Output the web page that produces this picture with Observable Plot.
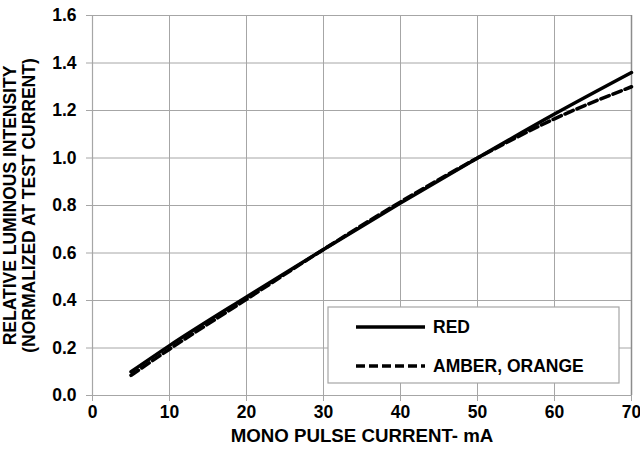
<!DOCTYPE html>
<html>
<head>
<meta charset="utf-8">
<script src="https://cdn.jsdelivr.net/npm/d3@7"></script>
<script src="https://cdn.jsdelivr.net/npm/@observablehq/plot@0.6"></script>
<style>
  html, body { margin: 0; padding: 0; background: #fff; }
</style>
</head>
<body>
<div id="chart"></div>
<script>
const current = [5, 10, 20, 30, 40, 50, 60, 70];
const redValues = [0.10, 0.21, 0.415, 0.615, 0.81, 1.0, 1.185, 1.36];
const amberValues = [0.085, 0.195, 0.405, 0.615, 0.815, 1.0, 1.165, 1.30];
const seriesNames = ["RED", "AMBER, ORANGE"];
const xTicks = [0, 10, 20, 30, 40, 50, 60, 70];
const yTicks = [0, 0.2, 0.4, 0.6, 0.8, 1.0, 1.2, 1.4, 1.6];
const xTitle = "MONO PULSE CURRENT- mA";
const yTitle = "RELATIVE LUMINOUS INTENSITY\n(NORMALIZED AT TEST CURRENT)";

const red = current.map((c, i) => ({x: c, y: redValues[i]}));
const amber = current.map((c, i) => ({x: c, y: amberValues[i]}));
const grid = "#a6a6a6";
const font = "'Liberation Sans', Arial, sans-serif";

const chart = Plot.plot({
  width: 640,
  height: 454,
  marginLeft: 92,
  marginRight: 9,
  marginTop: 15,
  marginBottom: 59,
  style: {fontFamily: font, fontSize: "17px", fontWeight: "bold", background: "#fff"},
  x: {domain: [0, 70]},
  y: {domain: [0, 1.6]},
  marks: [
    Plot.gridX(xTicks, {stroke: grid, strokeOpacity: 1, strokeWidth: 1}),
    Plot.gridY(yTicks, {stroke: grid, strokeOpacity: 1, strokeWidth: 1}),
    Plot.ruleX([0], {stroke: grid, strokeWidth: 1.2}),
    Plot.ruleY([0], {stroke: grid, strokeWidth: 1.2}),
    Plot.ruleX([70], {stroke: "#8c8c8c", strokeWidth: 1.5}),
    Plot.axisX(xTicks, {tickSize: 6, tickPadding: 4, stroke: grid, fill: "black", label: null, fontSize: 17.5, fontWeight: "bold"}),
    Plot.axisY(yTicks, {tickSize: 6, tickPadding: 10, stroke: grid, fill: "black", label: null, tickFormat: d3.format(".1f"), fontSize: 17.5, fontWeight: "bold"}),
    Plot.line(amber, {x: "x", y: "y", stroke: "black", strokeWidth: 3.5, strokeDasharray: "9,4", curve: "monotone-x"}),
    Plot.line(red, {x: "x", y: "y", stroke: "black", strokeWidth: 3.5, curve: "monotone-x"}),
    Plot.text([xTitle], {frameAnchor: "bottom", dy: 46, fontSize: 18.7, fontWeight: "bold", fill: "black"}),
    Plot.text([yTitle], {frameAnchor: "left", textAnchor: "middle", dx: -73, rotate: -90, lineHeight: 1.05, fontSize: 17.5, fontWeight: "bold", fill: "black"})
  ]
});
document.getElementById("chart").appendChild(chart);

// Legend box
const svg = d3.select(chart);
const lg = svg.append("g").attr("font-family", font).attr("font-size", 17.5).attr("font-weight", "bold").attr("text-anchor", "start");
lg.append("rect").attr("x", 328).attr("y", 307).attr("width", 291).attr("height", 76)
  .attr("fill", "white").attr("stroke", grid).attr("stroke-width", 1.2);
const rows = [{name: seriesNames[0], dash: null, y: 327}, {name: seriesNames[1], dash: "9,4", y: 366}];
rows.forEach(r => {
  const l = lg.append("line").attr("x1", 356).attr("x2", 425).attr("y1", r.y).attr("y2", r.y)
    .attr("stroke", "black").attr("stroke-width", 3.5);
  if (r.dash) l.attr("stroke-dasharray", r.dash);
  lg.append("text").attr("x", 433).attr("y", r.y).attr("dy", "0.35em").attr("fill", "black").attr("text-anchor", "start").text(r.name);
});
</script>
</body>
</html>
